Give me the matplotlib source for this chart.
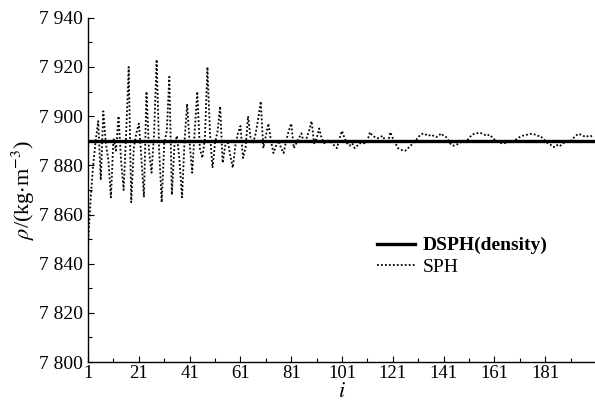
import matplotlib
matplotlib.use("Agg")
import matplotlib.pyplot as plt
from matplotlib.ticker import MultipleLocator, FixedLocator, FuncFormatter

plt.rcParams['font.family'] = ['Liberation Serif', 'DejaVu Serif']
plt.rcParams['mathtext.fontset'] = 'stix'

sph = [
    7848, 7866, 7880, 7890, 7898, 7874, 7902, 7889, 7882, 7867,
    7891, 7886, 7900, 7882, 7870, 7893, 7920, 7865, 7887, 7893,
    7897, 7883, 7867, 7910, 7886, 7877, 7893, 7923, 7886, 7865,
    7889, 7894, 7916, 7868, 7888, 7892, 7882, 7867, 7890, 7905,
    7889, 7877, 7894, 7910, 7887, 7883, 7891, 7920, 7893, 7879,
    7889, 7894, 7904, 7881, 7888, 7890, 7884, 7879, 7888, 7893,
    7896, 7883, 7887, 7900, 7891, 7889, 7893, 7899, 7906, 7887,
    7892, 7897, 7890, 7885, 7888, 7890, 7887, 7885, 7890, 7894,
    7897, 7887, 7889, 7891, 7893, 7889, 7891, 7894, 7898, 7889,
    7891, 7895, 7891, 7889, 7890, 7890, 7889, 7888, 7887, 7891,
    7894, 7891, 7889, 7888, 7889, 7887, 7888, 7889, 7889, 7889,
    7890, 7893.5, 7892, 7891.5, 7891, 7891.5, 7892, 7890, 7889, 7893.5,
    7891, 7889, 7887, 7886.5, 7886, 7886, 7887, 7888, 7889, 7890,
    7891.5, 7892.5, 7893, 7892.5, 7892, 7892.5, 7892, 7891.5, 7892, 7893,
    7892, 7891.5, 7890, 7888.3, 7888, 7888.3, 7889, 7889.5, 7889.6, 7890,
    7891, 7892.3, 7892.8, 7893, 7893.3, 7893, 7892.5, 7892, 7892.5, 7891.5,
    7890.5, 7889.6, 7889.3, 7889, 7889, 7889.3, 7889.5, 7889.6, 7890, 7891,
    7891.5, 7892, 7892.3, 7892.5, 7892.8, 7892.8, 7892.5, 7892, 7892, 7891,
    7890, 7889, 7888.5, 7887.5, 7887.5, 7888.5, 7888, 7889, 7889.3, 7889.6,
    7890, 7891, 7892, 7892.8, 7892.5, 7892, 7891.5, 7892, 7892, 7891,
]
idx = list(range(1, len(sph) + 1))
dsph_value = 7890
dsph = [dsph_value] * len(idx)

x_ticks = [1, 21, 41, 61, 81, 101, 121, 141, 161, 181]
y_ticks = [7800, 7820, 7840, 7860, 7880, 7900, 7920, 7940]

fig = plt.figure(figsize=(5.95, 4.05), dpi=100)
ax = fig.add_axes([0.148, 0.106, 0.852, 0.850])

ax.plot(idx, dsph, color='black', lw=2.4, label='DSPH(density)', zorder=3)
ax.plot(idx, sph, color='black', lw=1.3, linestyle=(0, (1, 1.2)), label='SPH', zorder=2)

ax.set_xlim(1, 200.6)
ax.set_ylim(7800, 7940)
ax.xaxis.set_major_locator(FixedLocator(x_ticks))
ax.xaxis.set_minor_locator(FixedLocator([t + 10 for t in x_ticks]))
ax.yaxis.set_major_locator(FixedLocator(y_ticks))
ax.yaxis.set_minor_locator(MultipleLocator(10))

def yfmt(v, pos):
    s = f"{int(round(v))}"
    return s[0] + " " + s[1:]
ax.yaxis.set_major_formatter(FuncFormatter(yfmt))

for s in ['top', 'right']:
    ax.spines[s].set_visible(False)
for s in ['left', 'bottom']:
    ax.spines[s].set_linewidth(1.0)

ax.tick_params(which='both', direction='in', width=0.8)
ax.tick_params(axis='y', labelsize=14, pad=4)
ax.tick_params(axis='x', labelsize=13.5, pad=2)
ax.tick_params(which='major', length=4)
ax.tick_params(which='minor', length=3)

ax.set_xlabel(r'$i$', fontsize=16, labelpad=1)
ax.set_ylabel(r'$\rho$/(kg$\cdot$m$^{-3}$)', fontsize=16, labelpad=1)

leg = ax.legend(loc='center left', bbox_to_anchor=(0.55, 0.307), frameon=False,
                prop={'size': 14, 'weight': 'bold'}, borderpad=0,
                handlelength=1.95, handletextpad=0.4, labelspacing=0.2)
leg.get_texts()[1].set_fontweight('normal')

fig.savefig('out.png', dpi=100)
